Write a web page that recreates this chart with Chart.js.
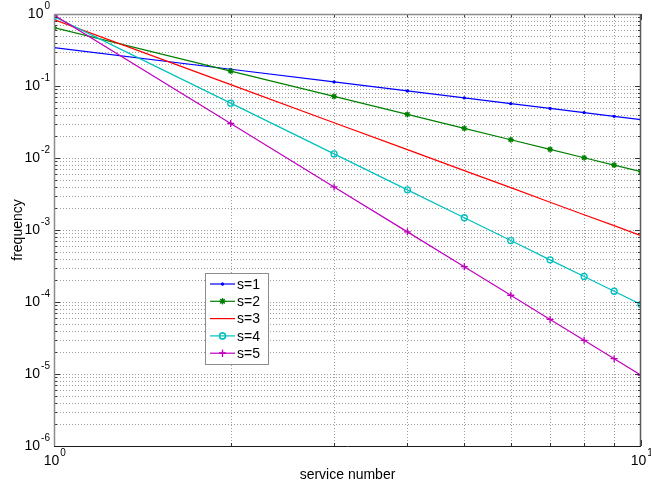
<!DOCTYPE html>
<html>
<head>
<meta charset="utf-8">
<script src="https://cdn.jsdelivr.net/npm/chart.js@4"></script>
<style>
  html, body { margin:0; padding:0; background:#fff; }
  #wrap { width:651px; height:488px; position:relative; }
</style>
</head>
<body>
<div id="wrap"><canvas id="chart" width="651" height="488"></canvas></div>
<script>
// ========== DATA ==========
const serviceNumbers = [1, 2, 3, 4, 5, 6, 7, 8, 9, 10];
const freqS1 = [0.3414, 0.1707, 0.1138, 0.08536, 0.06828, 0.05690, 0.04877, 0.04268, 0.03794, 0.03414];
const freqS2 = [0.6453, 0.1613, 0.07170, 0.04033, 0.02581, 0.01792, 0.01317, 0.01008, 0.00797, 0.00645];
const freqS3 = [0.8351, 0.1044, 0.03093, 0.01305, 0.00668, 0.00387, 0.00243, 0.00163, 0.00115, 0.000835];
const freqS4 = [0.9242, 0.05776, 0.01141, 0.00361, 0.001479, 0.000713, 0.000385, 0.000226, 0.000141, 0.0000924];
const freqS5 = [0.9644, 0.03014, 0.003969, 0.000942, 0.000309, 0.000124, 0.0000573, 0.0000294, 0.0000163, 0.00000964];
const seriesLabels = ['s=1', 's=2', 's=3', 's=4', 's=5'];
const xDecades = [0, 1];            // 10^0 .. 10^1
const yDecades = [-6, -5, -4, -3, -2, -1, 0];

// ========== STYLE ==========
const FONT = '"Liberation Sans", Arial, sans-serif';
const STYLES = [
  { color:'#0000ff', pointStyle:'circle', radius:1,   fill:true },
  { color:'#008000', pointStyle:'star',   radius:3,   fill:true },
  { color:'#ff0000', pointStyle:'circle', radius:0,   fill:true },
  { color:'#00bfbf', pointStyle:'circle', radius:3,   fill:false },
  { color:'#bf00bf', pointStyle:'cross',  radius:3.5, fill:false }
];
const allSeries = [freqS1, freqS2, freqS3, freqS4, freqS5];

const datasets = allSeries.map((vals, i) => ({
  label: seriesLabels[i],
  data: serviceNumbers.map((x, k) => ({ x, y: vals[k] })),
  borderColor: STYLES[i].color,
  backgroundColor: STYLES[i].fill ? STYLES[i].color : 'rgba(0,0,0,0)',
  borderWidth: 1.2,
  pointStyle: STYLES[i].pointStyle,
  pointRadius: STYLES[i].radius,
  pointBorderWidth: 1.3,
  pointHoverRadius: STYLES[i].radius,
  tension: 0,
  order: 5 - i
}));

// ========== HELPERS ==========
function drawPow(ctx, exp, x, y, align){
  // "10" with superscript exponent; 'right' anchors the whole label, 'center' centres the "10"
  ctx.font = '14px ' + FONT;
  const wb = ctx.measureText('10').width;
  ctx.font = '10px ' + FONT;
  const we = ctx.measureText(String(exp)).width;
  let x0 = align === 'right' ? x - (wb + we + 1) : x - wb / 2;
  ctx.fillStyle = '#000';
  ctx.textAlign = 'left';
  ctx.textBaseline = 'middle';
  ctx.font = '14px ' + FONT;
  ctx.fillText('10', x0, y);
  ctx.font = '10px ' + FONT;
  ctx.fillText(String(exp), x0 + wb + 1, y - 8);
}

function logPositions(decades){
  const major = [], minor = [];
  for (let i = 0; i < decades.length; i++){
    major.push(Math.pow(10, decades[i]));
    if (i < decades.length - 1)
      for (let m = 2; m <= 9; m++) minor.push(m * Math.pow(10, decades[i]));
  }
  return { major, minor };
}

function drawMarker(ctx, st, x, y){
  if (!st.radius) return;
  if (Chart.helpers && Chart.helpers.drawPoint){
    Chart.helpers.drawPoint(ctx, {
      pointStyle: st.pointStyle, radius: st.radius, rotation: 0, borderWidth: 1.3
    }, x, y);
    if (st.fill) ctx.fill();
    ctx.stroke();
  }
}

// ========== PLUGIN: MATLAB-like axes, grid, labels, legend ==========
const matlabAxes = {
  id: 'matlabAxes',
  beforeDatasetsDraw(chart){
    const { ctx, chartArea: a, scales: { x, y } } = chart;
    const xs = logPositions(xDecades), ys = logPositions(yDecades);
    ctx.save();
    ctx.strokeStyle = 'rgba(0,0,0,0.38)';
    ctx.lineWidth = 1;
    ctx.setLineDash([1, 2]);
    [...xs.major, ...xs.minor].forEach(v => {
      const px = Math.round(x.getPixelForValue(v)) + 0.5;
      if (px <= a.left + 1 || px >= a.right - 1) return;
      ctx.beginPath(); ctx.moveTo(px, a.top); ctx.lineTo(px, a.bottom); ctx.stroke();
    });
    [...ys.major, ...ys.minor].forEach(v => {
      const py = Math.round(y.getPixelForValue(v)) + 0.5;
      if (py <= a.top + 1 || py >= a.bottom - 1) return;
      ctx.beginPath(); ctx.moveTo(a.left, py); ctx.lineTo(a.right, py); ctx.stroke();
    });
    ctx.restore();
  },
  afterDraw(chart){
    const { ctx, chartArea: a, scales: { x, y } } = chart;
    const xs = logPositions(xDecades), ys = logPositions(yDecades);
    ctx.save();
    ctx.setLineDash([]);
    ctx.lineWidth = 1;
    ctx.strokeStyle = '#333';
    // inward ticks
    const tick = (x1, y1, x2, y2) => { ctx.beginPath(); ctx.moveTo(x1, y1); ctx.lineTo(x2, y2); ctx.stroke(); };
    ys.major.concat(ys.minor).forEach((v, i) => {
      const py = Math.round(y.getPixelForValue(v)) + 0.5;
      const len = i < ys.major.length ? 6 : 3;
      tick(a.left, py, a.left + len, py);
      tick(a.right, py, a.right - len, py);
    });
    xs.major.concat(xs.minor).forEach((v, i) => {
      const px = Math.round(x.getPixelForValue(v)) + 0.5;
      const len = i < xs.major.length ? 6 : 3;
      tick(px, a.bottom, px, a.bottom - len);
      tick(px, a.top, px, a.top + len);
    });
    // frame
    ctx.lineWidth = 1.5;
    ctx.strokeStyle = '#8c8c8c';
    tick(a.left + 0.5, a.bottom, a.left + 0.5, a.top + 0.5);
    tick(a.left, a.top + 0.5, a.right, a.top + 0.5);
    ctx.strokeStyle = '#5a5a5a';
    tick(a.right - 0.5, a.top, a.right - 0.5, a.bottom);
    ctx.lineWidth = 1;
    ctx.strokeStyle = '#1a1a1a';
    tick(a.left, a.bottom + 0.5, a.right, a.bottom + 0.5);

    // tick labels
    yDecades.forEach(e => drawPow(ctx, e, a.left - 4, y.getPixelForValue(Math.pow(10, e)), 'right'));
    xDecades.forEach(e => drawPow(ctx, e, x.getPixelForValue(Math.pow(10, e)) - 2.5, a.bottom + 15, 'center'));

    // axis titles
    ctx.fillStyle = '#000';
    ctx.font = '14px ' + FONT;
    ctx.textAlign = 'center';
    ctx.textBaseline = 'middle';
    ctx.fillText('service number', (a.left + a.right) / 2, a.bottom + 29);
    ctx.save();
    ctx.translate(18, (a.top + a.bottom) / 2);
    ctx.rotate(-Math.PI / 2);
    ctx.fillText('frequency', 0, 0);
    ctx.restore();

    // legend box
    const lx = 205.5, ly = 273.5, lw = 63, lh = 91;
    ctx.fillStyle = '#fff';
    ctx.fillRect(lx, ly, lw, lh);
    ctx.strokeStyle = '#8c8c8c';
    ctx.lineWidth = 1;
    ctx.strokeRect(lx, ly, lw, lh);
    chart.data.datasets.forEach((ds, i) => {
      const cy = 284 + i * 17.3;
      ctx.strokeStyle = ds.borderColor;
      ctx.fillStyle = ds.backgroundColor;
      ctx.lineWidth = 1.2;
      tick(210, cy, 235, cy);
      drawMarker(ctx, STYLES[i], 222.5, cy);
      ctx.fillStyle = '#000';
      ctx.font = '14px ' + FONT;
      ctx.textAlign = 'left';
      ctx.textBaseline = 'middle';
      ctx.fillText(ds.label, 237, cy + 1);
    });
    ctx.restore();
  }
};

// ========== CHART ==========
new Chart(document.getElementById('chart'), {
  type: 'line',
  data: { datasets },
  options: {
    responsive: false,
    animation: false,
    layout: { padding: { left: 54, right: 10, top: 14, bottom: 42 } },
    plugins: { legend: { display: false }, tooltip: { enabled: false } },
    scales: {
      x: { type: 'logarithmic', min: 1, max: 10, display: false },
      y: { type: 'logarithmic', min: 1e-6, max: 1, display: false }
    }
  },
  plugins: [matlabAxes]
});
</script>
</body>
</html>
